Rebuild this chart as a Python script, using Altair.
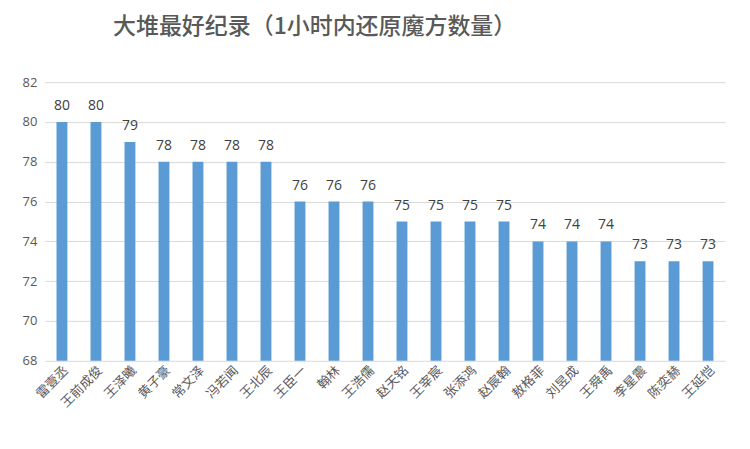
"""Bar chart: 大堆最好纪录 (1小时内还原魔方数量)."""

import altair as alt
import pandas as pd

names = ["雷壹丞", "王前成俊", "王泽曦", "黄子豪", "常文泽", "冯若闻", "王北辰",
         "王臣一", "翰林", "王浩儒", "赵天铭", "王宰宸", "张添鸿", "赵宸翰",
         "敖格菲", "刘昱成", "王舜禹", "李星震", "陈奕赫", "王延恺"]
counts = [80, 80, 79, 78, 78, 78, 78, 76, 76, 76, 75, 75, 75, 75,
          74, 74, 74, 73, 73, 73]
y_ticks = [68, 70, 72, 74, 76, 78, 80, 82]

df = pd.DataFrame({"name": names, "count": counts})

yscale = alt.Scale(domain=[68, 82], nice=False, zero=False)
xenc = alt.X("name:N", sort=names, title=None,
             scale=alt.Scale(paddingInner=0.68, paddingOuter=0.34),
             axis=alt.Axis(labelAngle=-45, labelAlign="right", labelBaseline="top",
                           labelFont="Noto Sans CJK SC", labelFontSize=13,
                           labelColor="#595959", labelPadding=3,
                           ticks=False, domain=False, grid=False))
yenc = alt.Y("count:Q", scale=yscale, title=None,
             axis=alt.Axis(values=y_ticks, labelFont="Open Sans", labelFontSize=13,
                           labelColor="#595959", labelPadding=8, ticks=False,
                           labelOverlap=False, domain=False,
                           gridColor="#d9d9d9", gridWidth=1))

bars = alt.Chart(df).mark_bar(color="#5B9BD5").encode(
    x=xenc,
    y=yenc,
    y2=alt.datum(68),
)

labels = alt.Chart(df).mark_text(
    baseline="bottom", dy=-9, font="Open Sans", fontSize=14, color="#404040",
).encode(
    x=xenc,
    y=yenc,
    text="count:Q",
)

chart = (bars + labels).properties(
    width=681, height=279,
    padding={"left": 14, "top": 8, "right": 17, "bottom": 5},
    background="white",
    title=alt.TitleParams(
        "大堆最好纪录（1小时内还原魔方数量）", font="Noto Sans CJK SC",
        fontSize=23, fontWeight=500, color="#595959",
        anchor="start", dx=91, offset=37,
    ),
).configure_view(stroke=None)

chart.save("out.html", embed_options={"renderer": "svg", "actions": False})
